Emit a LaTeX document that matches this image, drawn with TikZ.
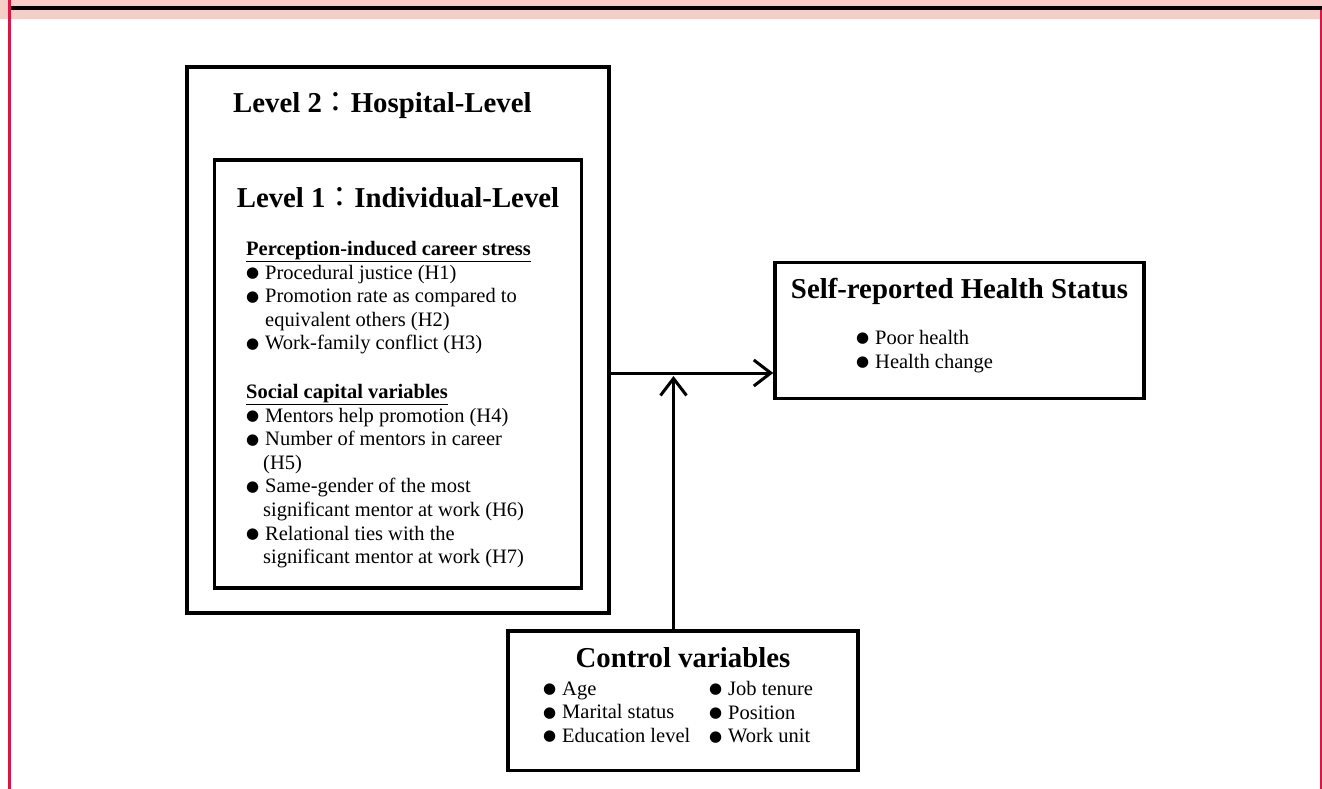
\documentclass[tikz,border=0pt]{standalone}
\usepackage{fontspec}
\setmainfont{Liberation Serif}
\newfontfamily\cjk{Noto Sans CJK TC}
\newfontfamily\dejavu{DejaVu Sans}
\usetikzlibrary{positioning,arrows.meta}
\definecolor{bandpink}{RGB}{246,205,199}
\definecolor{edgered}{RGB}{218,22,68}
\newcommand{\blt}{\makebox[19pt][l]{\raisebox{1.5pt}{\fontsize{15}{15}\selectfont\dejavu ●}}}
\newcommand{\fwc}{{\cjk\mdseries ：}}
\newcommand{\hdl}[1]{\textbf{\underline{#1}}}

\begin{document}
\begin{tikzpicture}[
  x=1pt, y=-1pt,
  font=\fontsize{20.5}{23.6}\selectfont,
  frame/.style={draw, line width=3.5pt, inner sep=0pt},
  ttl/.style={font=\fontsize{28.8}{32}\selectfont\bfseries, inner sep=0pt},
  lst/.style={align=left, inner sep=0pt},
  conn/.style={line width=3pt, -{Straight Barb[length=17pt, width=26pt, line width=3pt]}}
]
\useasboundingbox (0,0) rectangle (1322,789);
% page edge
\fill[bandpink] (0,0) rectangle (1322,19);
\draw[line width=3.6pt] (8,8.3) -- (1322,8.3);
\draw[edgered, line width=3pt] (9.5,0) -- (9.5,789);
\draw[edgered, line width=1.5pt] (1321.2,10) -- (1321.2,789);

% boxes
\node[frame, minimum width=422pt, minimum height=546pt] (lvtwo) at (398,340) {};
\node[frame, minimum width=367pt, minimum height=428pt] (lvone) at (398,374) {};
\node[frame, minimum width=369pt, minimum height=136pt] (health) at (959.5,330.5) {};
\node[frame, minimum width=350pt, minimum height=139.5pt] (ctrl) at (683,700.8) {};

% titles
\node[ttl, anchor=base west] (lvtwotitle) at (233,113) {Level 2\fwc Hospital-Level};
\node[ttl, anchor=base] (lvonetitle) at (398,207) {Level 1\fwc Individual-Level};
\node[ttl, anchor=base] (healthtitle) at (959.5,298) {Self-reported Health Status};
\node[ttl, anchor=base] (ctrltitle) at (683,667) {Control variables};

% lists
\node[lst, anchor=north west] (stresslist) at (246,241) {\hdl{Perception-induced career stress}\\
\blt Procedural justice (H1)\\
\blt Promotion rate as compared to\\
\hspace*{19pt}equivalent others (H2)\\
\blt Work-family conflict (H3)\\[25pt]
\hdl{Social capital variables}\\
\blt Mentors help promotion (H4)\\
\blt Number of mentors in career\\
\hspace*{17pt}(H5)\\
\blt Same-gender of the most\\
\hspace*{17pt}significant mentor at work (H6)\\
\blt Relational ties with the\\
\hspace*{17pt}significant mentor at work (H7)};
\node[lst, anchor=north west] (healthlist) at (856,330) {\blt Poor health\\
\blt Health change};
\node[lst, anchor=north west] (ctrlleft) at (543,681.4) {\blt Age\\
\blt Marital status\\
\blt Education level};
\node[lst, anchor=north west] (ctrlright) at (709,681) {\blt Job tenure\\
\blt Position\\
\blt Work unit};

% connectors
\coordinate (jn) at (673.5,373);
\draw[conn] (lvtwo.east |- jn) -- (health.west |- jn);
\draw[conn] (ctrl.north -| jn) -- ([yshift=-3pt]jn);
\end{tikzpicture}
\end{document}
